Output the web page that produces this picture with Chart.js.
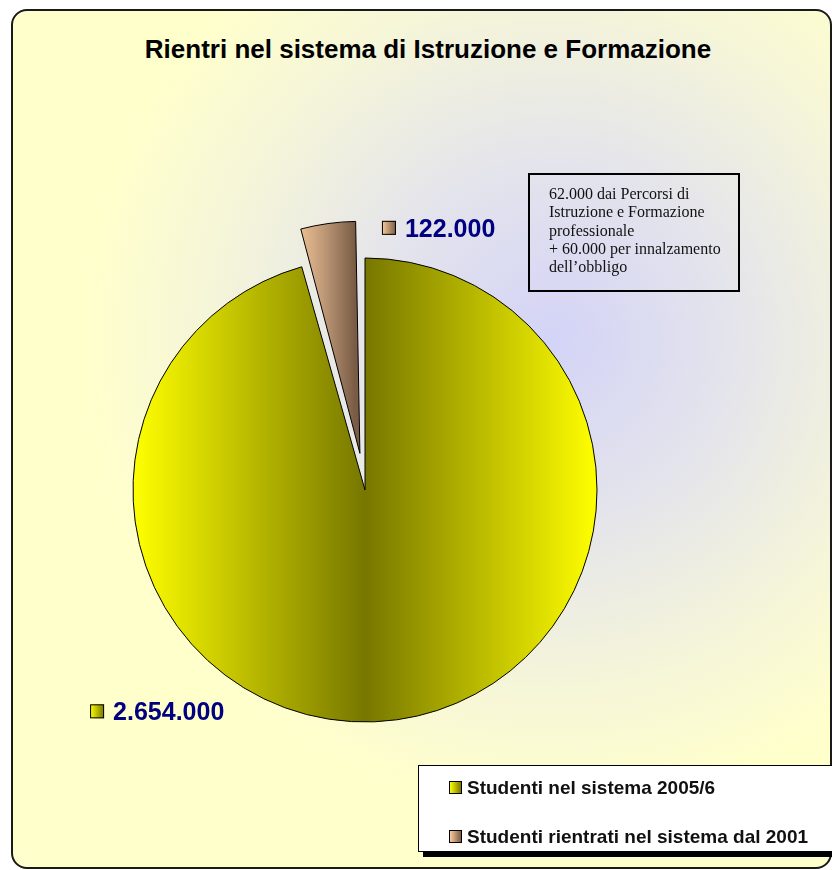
<!DOCTYPE html>
<html>
<head>
<meta charset="utf-8">
<script src="https://cdn.jsdelivr.net/npm/chart.js@4.4.0/dist/chart.umd.min.js"></script>
<style>
  html, body { margin: 0; padding: 0; background: #fff; }
  #wrap { position: relative; width: 832px; height: 870px; overflow: hidden; font-family: "Liberation Sans", Arial, sans-serif; }
  #frame {
    position: absolute; left: 11px; top: 9px; width: 817px; height: 856px;
    border: 2px solid #1a1a1a; border-radius: 16px;
    background: radial-gradient(ellipse 470px 470px at 540px 330px, #d3d3f7 0%, #e4e4ec 38%, #f6f6d8 75%, #ffffcc 100%);
  }
  #title { position: absolute; left: 0; top: 36px; width: 856px; text-align: center; font-weight: bold; font-size: 26px; line-height: 26px; color: #000; }
  #note {
    position: absolute; left: 528px; top: 173px; width: 212px; height: 119px; box-sizing: border-box;
    border: 2px solid #000; padding: 10px 0 0 19px;
    font-family: "Liberation Serif", "Times New Roman", serif; font-size: 16px; line-height: 18.3px; color: #111;
  }
  #legend {
    position: absolute; left: 418px; top: 765px; width: 430px; height: 87px; box-sizing: border-box;
    background: #fff; border: 1px solid #000; box-shadow: 5px 5px 0 #000;
  }
  .item { position: absolute; left: 30px; font-weight: bold; font-size: 19px; line-height: 19px; color: #111; white-space: nowrap; }
  .item i { display: inline-block; width: 11px; height: 11px; border: 1px solid #000; margin-right: 5px; vertical-align: 0px; }
  canvas { position: absolute; left: 0; top: 0; }
</style>
</head>
<body>
<div id="wrap">
  <div id="frame"></div>
  <div id="title">Rientri nel sistema di Istruzione e Formazione</div>
  <canvas id="pie" width="832" height="870"></canvas>
  <div id="note">62.000 dai Percorsi di<br>Istruzione e Formazione<br>professionale<br>+ 60.000 per innalzamento<br>dell’obbligo</div>
  <div id="legend"></div>
</div>
<script>
// data
const categories = ['Studenti nel sistema 2005/6', 'Studenti rientrati nel sistema dal 2001'];
const students = [2654000, 122000];
// gradient stops per slice (left, middle, right)
const sliceColors = [
  ['#ffff00', '#777700', '#ffff00'],
  ['#fbcb9b', '#bf9a78', '#7a5c46']
];
// Chart.js v4 moves an arc by offset / 4
const sliceOffset = [0, 148];

function formatIt(n) {
  return String(n).replace(/\B(?=(\d{3})+(?!\d))/g, '.');
}

function sliceFill(context) {
  const chart = context.chart;
  const area = chart.chartArea;
  if (!area) return sliceColors[context.dataIndex][0];
  const i = context.dataIndex;
  const cx = (area.left + area.right) / 2;
  const r = (Math.min(area.right - area.left, area.bottom - area.top) - 149) / 2;
  const total = students.reduce((a, b) => a + b, 0);
  let g;
  if (i === 0) {
    g = chart.ctx.createLinearGradient(cx - r, 0, cx + r, 0);
  } else {
    const span = 2 * Math.PI * students[i] / total;
    const ox = cx - sliceOffset[i] / 4 * Math.sin(span / 2);
    g = chart.ctx.createLinearGradient(ox - r * Math.sin(span), 0, ox, 0);
  }
  const c = sliceColors[i];
  g.addColorStop(0, c[0]);
  g.addColorStop(0.5, c[1]);
  g.addColorStop(1, c[2]);
  return g;
}

// keep the exploded slice at the same radius as the rest of the pie
const keepRadius = {
  id: 'keepRadius',
  afterDatasetsUpdate(chart) {
    const meta = chart.getDatasetMeta(0);
    meta.data.forEach((arc, i) => {
      const off = sliceOffset[i] / 4;
      if (!off) return;
      const fix = 1 - Math.sin(Math.min(Math.PI, arc.circumference));
      arc.outerRadius -= off * fix;
    });
  }
};

// value labels next to the slices, placed relative to the pie radius
const labelAnchor = [[-1.185, 0.954], [0.073, -1.13]];
const valueLabels = {
  id: 'valueLabels',
  afterDatasetsDraw(chart) {
    const ctx = chart.ctx;
    const meta = chart.getDatasetMeta(0);
    const main = meta.data[0];
    meta.data.forEach((arc, i) => {
      const r = main.outerRadius;
      const x = main.x + labelAnchor[i][0] * r;
      const y = main.y + labelAnchor[i][1] * r;
      const sq = 14;
      const g = ctx.createLinearGradient(x, 0, x + sq, 0);
      g.addColorStop(0, sliceColors[i][0]);
      g.addColorStop(1, sliceColors[i][i === 0 ? 1 : 2]);
      ctx.save();
      ctx.fillStyle = g;
      ctx.fillRect(x, y - sq / 2, sq, sq);
      ctx.strokeStyle = '#000';
      ctx.lineWidth = 1;
      ctx.strokeRect(x + 0.5, y - sq / 2 + 0.5, sq - 1, sq - 1);
      ctx.fillStyle = '#000080';
      ctx.font = 'bold 25px "Liberation Sans", Arial, sans-serif';
      ctx.textBaseline = 'alphabetic';
      ctx.fillText(formatIt(students[i]), x + sq + 9, y + 9);
      ctx.restore();
    });
  }
};

new Chart(document.getElementById('pie'), {
  type: 'pie',
  data: {
    labels: categories,
    datasets: [{
      data: students,
      backgroundColor: sliceFill,
      borderColor: '#000',
      borderWidth: 1,
      offset: sliceOffset
    }]
  },
  options: {
    responsive: false,
    animation: false,
    events: [],
    layout: { padding: { left: 58.5, right: 160.5, top: 183.5, bottom: 73.5 } },
    plugins: {
      legend: { display: false },
      tooltip: { enabled: false },
      title: { display: false }
    }
  },
  plugins: [keepRadius, valueLabels]
});

// legend built from the same arrays
const legend = document.getElementById('legend');
const tops = [12, 61];
categories.forEach((name, i) => {
  const d = document.createElement('div');
  d.className = 'item';
  d.style.top = tops[i] + 'px';
  const c = sliceColors[i];
  d.innerHTML = '<i style="background:linear-gradient(to right,' + c[0] + ',' + c[i === 0 ? 1 : 2] + ')"></i>' + name;
  legend.appendChild(d);
});
</script>
</body>
</html>
